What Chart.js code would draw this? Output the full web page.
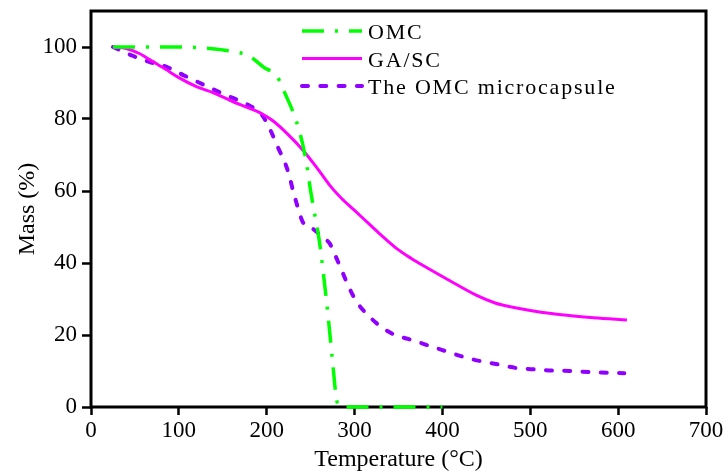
<!DOCTYPE html>
<html>
<head>
<meta charset="utf-8">
<script src="https://cdn.jsdelivr.net/npm/chart.js@4.4.0/dist/chart.umd.min.js"></script>
<style>
  html, body { margin: 0; padding: 0; background: #fff; }
</style>
</head>
<body>
<canvas id="grafico" width="727" height="474"></canvas>
<script>
// OMC (dash-dot green)
const omcTemp = [25, 50, 75, 100, 125, 150, 165, 180, 196, 212, 221, 232, 240, 245, 250, 255, 260, 265, 270, 275, 280, 285, 300, 350, 400];
const omcMass = [100, 100, 100, 100, 99.8, 99.2, 98.6, 97.5, 94.5, 91.7, 87, 80.6, 74, 68, 60, 53, 46, 36, 25, 12.5, 1.5, 0, 0, 0, 0];

// GA/SC (solid magenta)
const gaTemp = [25, 40, 55, 70, 85, 100, 120, 140, 160, 180, 195, 207, 223, 241, 257, 272, 285, 300, 318, 330, 348, 365, 378, 409, 439, 460, 480, 500, 526, 549, 572, 610];
const gaMass = [100, 99.6, 98.2, 96, 93.8, 91.5, 89, 87.2, 85, 83, 81.4, 79.5, 76, 71.4, 66.5, 61.5, 58, 54.6, 50.5, 47.8, 44, 41.2, 39.3, 35, 31, 28.9, 27.7, 26.8, 25.9, 25.3, 24.8, 24.2];

// The OMC microcapsule (dashed purple)
const capTemp = [25, 48, 67, 86, 105, 124, 143, 162, 177, 195, 204, 213, 221, 226, 230, 236, 241, 250, 257, 265, 272, 280, 287, 295, 303, 314, 329, 346, 361, 400, 430, 466, 485, 503, 526, 546, 568, 587, 607];
const capMass = [100, 97.5, 95.8, 94.5, 92.2, 90, 87.8, 85.8, 84.2, 81, 77, 72, 67.7, 64, 60, 55, 51.4, 50, 48.6, 47, 45.3, 41, 37, 32.5, 29, 25.8, 22.5, 20, 18.9, 15.8, 13.5, 11.7, 10.8, 10.5, 10.1, 10, 9.7, 9.5, 9.4];

const seriesLabels = ['OMC', 'GA/SC', 'The OMC microcapsule'];
const xTicks = [0, 100, 200, 300, 400, 500, 600, 700];
const yTicks = [0, 20, 40, 60, 80, 100];

const serif = '"Liberation Serif", "Times New Roman", serif';

function pairs(xs, ys) {
  return xs.map((x, i) => ({ x: x, y: ys[i] }));
}

// box around the plot, under the curves
const frame = {
  id: 'frame',
  beforeDatasetsDraw(chart) {
    const { ctx, chartArea: a } = chart;
    ctx.save();
    ctx.strokeStyle = '#000';
    ctx.lineWidth = 3;
    ctx.strokeRect(a.left, a.top, a.right - a.left, a.bottom - a.top);
    ctx.restore();
  }
};

// legend as a column inside the plot
const legendColumn = {
  id: 'legendColumn',
  afterDraw(chart) {
    const { ctx, chartArea: a } = chart;
    const x0 = a.left + 211;
    const y0 = a.top + 20;
    chart.data.datasets.forEach((ds, i) => {
      const y = y0 + i * 27.5;
      ctx.save();
      ctx.strokeStyle = ds.borderColor;
      ctx.lineWidth = ds.borderWidth;
      ctx.lineCap = ds.borderCapStyle || 'butt';
      ctx.setLineDash(ds.borderDash || []);
      ctx.beginPath();
      ctx.moveTo(x0, y);
      ctx.lineTo(x0 + 60, y);
      ctx.stroke();
      ctx.setLineDash([]);
      ctx.fillStyle = '#000';
      ctx.font = '22px ' + serif;
      ctx.letterSpacing = '1.8px';
      ctx.textBaseline = 'alphabetic';
      ctx.fillText(ds.label, x0 + 66, y + 8);
      ctx.restore();
    });
  }
};

const ctx = document.getElementById('grafico').getContext('2d');

new Chart(ctx, {
  type: 'line',
  data: {
    datasets: [{
      label: seriesLabels[0],
      data: pairs(omcTemp, omcMass),
      borderColor: '#00ff00',
      borderWidth: 3.5,
      borderDash: [22, 11, 3, 11],
      clip: false
    }, {
      label: seriesLabels[1],
      data: pairs(gaTemp, gaMass),
      borderColor: '#ff00ff',
      borderWidth: 3,
      clip: false
    }, {
      label: seriesLabels[2],
      data: pairs(capTemp, capMass),
      borderColor: '#8f00ff',
      borderWidth: 4,
      borderDash: [6, 12.3],
      borderCapStyle: 'round',
      clip: false
    }]
  },
  options: {
    responsive: false,
    animation: false,
    devicePixelRatio: 1,
    layout: { padding: { top: 11, right: 21, left: 0, bottom: 0 } },
    elements: {
      point: { radius: 0 },
      line: { cubicInterpolationMode: 'monotone', fill: false }
    },
    plugins: {
      legend: { display: false },
      tooltip: { enabled: false }
    },
    scales: {
      x: {
        type: 'linear',
        min: 0,
        max: 700,
        afterBuildTicks: (s) => { s.ticks = xTicks.map(v => ({ value: v })); },
        afterFit: (s) => { s.height = 67; s.paddingLeft = 0; s.paddingRight = 0; },
        border: { display: false },
        grid: { drawOnChartArea: false, tickLength: 8, tickWidth: 2.5, tickColor: '#000' },
        ticks: { color: '#000', padding: 2, maxRotation: 0, font: { family: serif, size: 23 } },
        title: {
          display: true,
          text: 'Temperature (°C)',
          color: '#000',
          padding: { top: 0, bottom: 0 },
          font: { family: serif, size: 24 }
        }
      },
      y: {
        min: 0,
        max: 110,
        afterBuildTicks: (s) => { s.ticks = yTicks.map(v => ({ value: v })); },
        afterFit: (s) => { s.width = 91; s.paddingTop = 0; s.paddingBottom = 0; },
        border: { display: false },
        grid: { drawOnChartArea: false, tickLength: 9, tickWidth: 2.5, tickColor: '#000' },
        ticks: { color: '#000', padding: 5, font: { family: serif, size: 23 } },
        title: {
          display: true,
          text: 'Mass (%)',
          color: '#000',
          padding: { top: 13, bottom: 0 },
          font: { family: serif, size: 24 }
        }
      }
    }
  },
  plugins: [frame, legendColumn]
});
</script>
</body>
</html>
